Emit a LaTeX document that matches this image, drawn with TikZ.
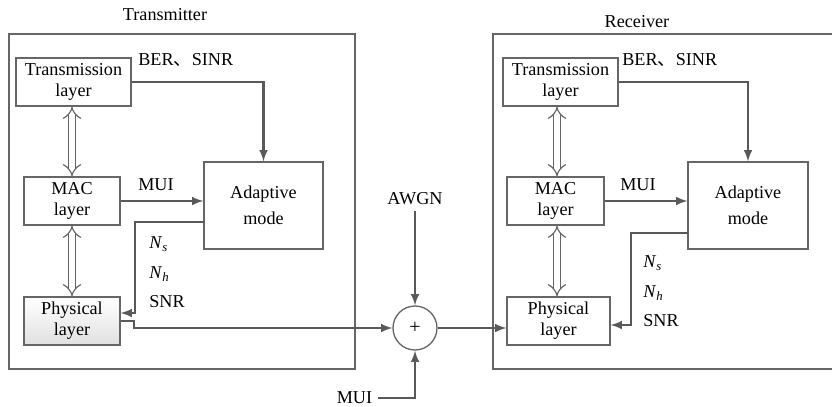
\documentclass[tikz,border=0pt]{standalone}
\usepackage{fontspec}
\setmainfont{Liberation Serif}
\newfontfamily\cjk{Noto Sans CJK SC}
\usetikzlibrary{arrows,calc,shapes.geometric}

\begin{document}
\begin{tikzpicture}[>=latex, x=0.6pt, y=-0.6pt, font=\fontsize{10.9pt}{12.5pt}\selectfont]
	\tikzstyle{frame}=[draw=black!60, line width=0.8pt]
	\tikzstyle{layer}=[draw=black!60, line width=0.8pt, inner sep=0pt, align=center, minimum height=28.8pt]
	\tikzstyle{flow}=[draw=black!65, line width=1.3pt, ->]
	\tikzstyle{link}=[draw=black!60, line width=0.7pt, double, double distance=3.2pt, implies-implies]
	\tikzstyle{lbl}=[inner sep=0pt, anchor=west]

	\useasboundingbox (0,0) rectangle (832,407);

	% transmitter
	\draw [frame] (9,34) rectangle (355,369);
	\node (ttitle) at (165,15) {Transmitter};

	\node (ttl) [layer, minimum width=69pt] at (73.5,82) {Transmission\\layer};
	\node (tmac) [layer, minimum width=57.6pt] at (72,201) {MAC\\layer};
	\node (tphy) [layer, minimum width=57.6pt, top color=white, bottom color=black!12] at (72,321) {Physical\\layer};
	\node (tada) [layer, minimum width=71.4pt, minimum height=52.2pt] at (263.5,205.5) {Adaptive\\[3pt]mode};

	\draw [link] (ttl.south -| tmac.north) -- (tmac.north);
	\draw [link] (tmac.south) -- (tphy.north);

	\draw [flow] (ttl.east) -| (tada.north);
	\draw [flow] (tmac.east) -- (tmac.east -| tada.west);
	\coordinate (ta1) at (204,222);
	\coordinate (ta2) at (135,313);
	\draw [flow] (ta1) -| (ta2) -- (ta2 -| tphy.east);

	\node (tber) [lbl] at (138,60) {BER{\cjk 、}SINR};
	\node (tmui) [lbl] at (138,185) {MUI};
	\node (tns) [lbl] at (149,244) {\textit{N}\textsubscript{\textit{s}}};
	\node (tnh) [lbl] at (149,274) {\textit{N}\textsubscript{\textit{h}}};
	\node (tsnr) [lbl] at (149,302) {SNR};

	% channel
	\node (adder) [draw=black!60, line width=0.8pt, circle, minimum size=26.4pt, inner sep=0pt] at (415,328) {\large +};
	\node (awgn) at (415,199) {AWGN};
	\node (mui) [anchor=east] at (378,398) {MUI};

	\coordinate (tp1) at (134,321);
	\draw [flow] (tphy.east |- tp1) -- (tp1) |- (adder.west);
	\draw [flow] (awgn.south) -- (adder.north);
	\draw [flow] (mui.east) -| (adder.south);

	% receiver
	\draw [frame] (840,34) -- (493,34) -- (493,369) -- (840,369);
	\node (rtitle) at (637,22) {Receiver};

	\node (rtl) [layer, minimum width=69pt] at (560.5,82) {Transmission\\layer};
	\node (rmac) [layer, minimum width=58.2pt] at (555.5,201) {MAC\\layer};
	\node (rphy) [layer, minimum width=61.8pt] at (558.5,321) {Physical\\layer};
	\node (rada) [layer, minimum width=72pt, minimum height=52.2pt] at (748,205.5) {Adaptive\\[3pt]mode};

	\coordinate (rl) at (557,0);
	\draw [link] (rtl.south -| rl) -- (rmac.north -| rl);
	\draw [link] (rmac.south -| rl) -- (rphy.north -| rl);

	\draw [flow] (rtl.east) -| (rada.north);
	\draw [flow] (rmac.east) -- (rmac.east -| rada.west);
	\coordinate (ra1) at (688,233);
	\coordinate (ra2) at (631,325);
	\draw [flow] (ra1) -| (ra2) -- (ra2 -| rphy.east);
	\draw [flow] (adder.east) -- (adder.east -| rphy.west);

	\node (rber) [lbl] at (622,60) {BER{\cjk 、}SINR};
	\node (rmui) [lbl] at (620,185) {MUI};
	\node (rns) [lbl] at (643,263) {\textit{N}\textsubscript{\textit{s}}};
	\node (rnh) [lbl] at (643,293) {\textit{N}\textsubscript{\textit{h}}};
	\node (rsnr) [lbl] at (643,321) {SNR};
\end{tikzpicture}
\end{document}
